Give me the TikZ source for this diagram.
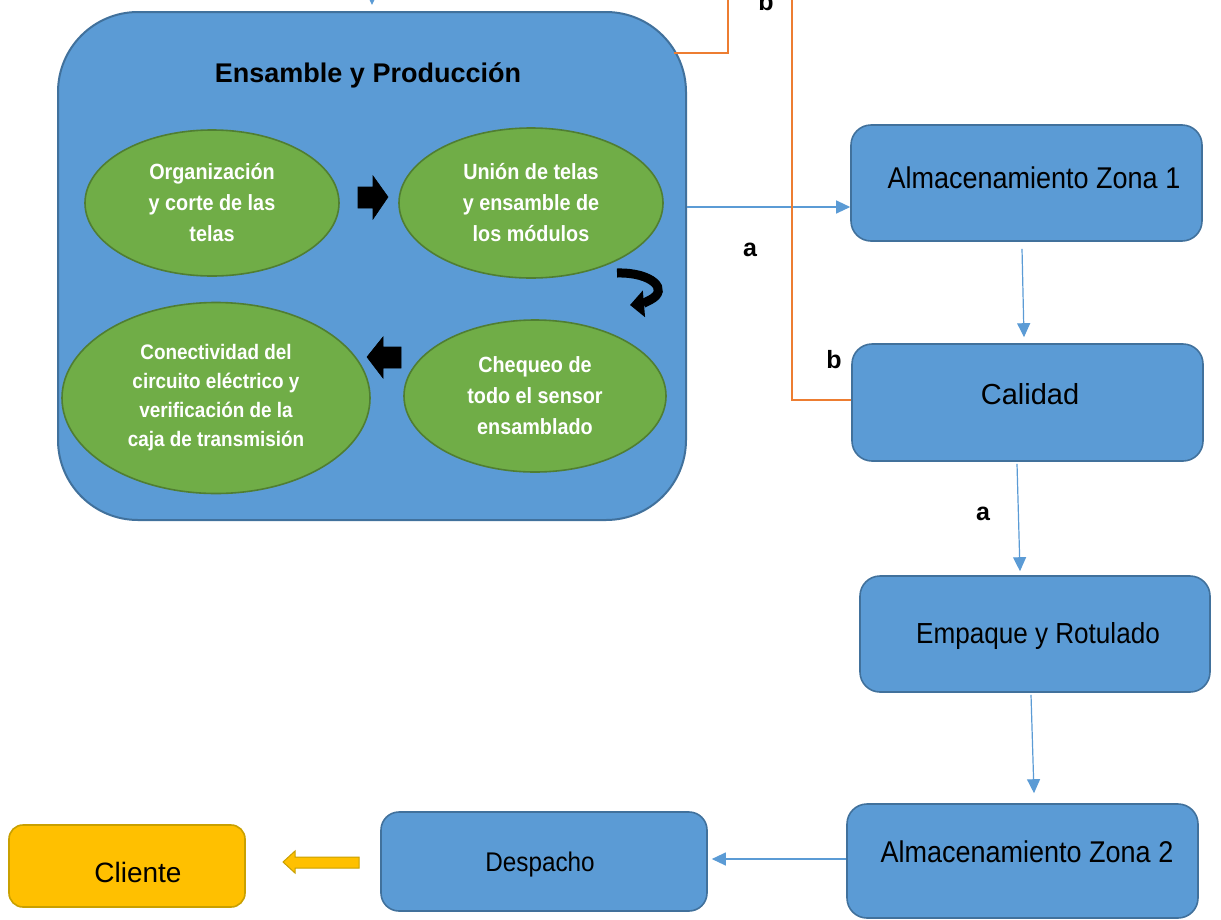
\documentclass[tikz,border=0pt]{standalone}
\usepackage{fontspec}
\setmainfont{Liberation Sans}
\newfontfamily\narrowsf{Liberation Sans}[FakeStretch=0.9]
\usetikzlibrary{shapes.geometric,arrows.meta,calc}

\definecolor{boxblue}{HTML}{5B9BD5}
\definecolor{boxedge}{HTML}{41719C}
\definecolor{leaf}{HTML}{70AD47}
\definecolor{leafedge}{HTML}{507E32}
\definecolor{wire}{HTML}{ED7D31}
\definecolor{gold}{HTML}{FFC000}
\definecolor{goldedge}{HTML}{C9A000}

\tikzset{
  stage/.style={draw=boxedge, fill=boxblue, line width=1.6pt, rounded corners=20pt,
    inner sep=0pt, minimum width=#1},
  stagetext/.style={anchor=base, inner sep=0pt, font=\narrowsf\fontsize{30}{34}\selectfont},
  task/.style={ellipse, draw=leafedge, fill=leaf, line width=1.6pt, inner sep=0pt,
    text=white, align=center},
  tasktext/.style={font=\narrowsf\bfseries\fontsize{22}{31}\selectfont},
  flow/.style={draw=boxblue, line width=1.2pt, -{Triangle[length=14pt,width=13pt]}},
  feedback/.style={draw=wire, line width=1.3pt},
  tag/.style={anchor=base, inner sep=0pt, font=\bfseries\fontsize{25}{28}\selectfont},
  bigarrow/.style={fill=black, draw=black, line width=0.6pt},
}

\begin{document}
\begin{tikzpicture}[x=1pt,y=-1pt]
\useasboundingbox (0,0) rectangle (1221,919);
\clip (0,0) rectangle (1221,919);

% production block with its four tasks
\node[draw=boxedge, fill=boxblue, line width=2pt, rounded corners=80pt,
      minimum width=628pt, minimum height=508pt] (ens) at (372,266) {};
\node[anchor=base, inner sep=0pt, font=\bfseries\fontsize{27}{30}\selectfont]
      (title) at (368,82) {Ensamble y Producción};

\node[task, tasktext, minimum width=254pt, minimum height=146pt] (t1) at (212,203)
  {Organización\\y corte de las\\telas};
\node[task, tasktext, minimum width=264pt, minimum height=150pt] (t2) at (531,203)
  {Unión de telas\\y ensamble de\\los módulos};
\node[task, tasktext, minimum width=262pt, minimum height=152pt] (t3) at (535,396)
  {Chequeo de\\todo el sensor\\ensamblado};
\node[task, font=\narrowsf\bfseries\fontsize{21}{29}\selectfont,
      minimum width=308pt, minimum height=191pt] (t4) at (216,398)
  {Conectividad del\\circuito eléctrico y\\verificación de la\\caja de transmisión};

% black block arrows between the tasks
\path[bigarrow] (358,187) -- (373,187) -- (373,176) -- (388,197) -- (373,219)
  -- (373,208) -- (358,208) -- cycle;
\path[bigarrow] (401,347) -- (383,347) -- (383,337) -- (367,357) -- (383,378)
  -- (383,368) -- (401,368) -- cycle;
\draw[line width=9pt, -{Triangle[length=14pt,width=26pt]}]
  (617,273) .. controls (652,272) and (670,290) .. (650,300) .. controls (642,304) .. (630,305);

% process boxes
\node[stage=351pt, minimum height=116pt] (alm1) at (1026.5,183) {};
\node[stagetext] (alm1t) at (1034,188) {Almacenamiento Zona 1};
\node[stage=351pt, minimum height=117pt] (cal) at (1027.5,402.5) {};
\node[anchor=base, inner sep=0pt, font=\fontsize{29}{33}\selectfont] (calt) at (1030,404) {Calidad};
\node[stage=350pt, minimum height=116pt] (emp) at (1035,634) {};
\node[stagetext, font=\narrowsf\fontsize{29}{33}\selectfont] (empt) at (1038,643) {Empaque y Rotulado};
\node[stage=351pt, minimum height=114pt] (alm2) at (1022.5,861) {};
\node[stagetext] (alm2t) at (1027,862) {Almacenamiento Zona 2};
\node[stage=326pt, minimum height=99pt, rounded corners=18pt] (desp) at (544,861.5) {};
\node[stagetext, font=\narrowsf\fontsize{27}{31}\selectfont] (despt) at (540,871) {Despacho};
\node[draw=goldedge, fill=gold, line width=1.6pt, rounded corners=14pt,
      minimum width=236pt, minimum height=82pt] (cli) at (127,866) {};
\node[anchor=base, inner sep=0pt, font=\fontsize{28}{32}\selectfont] (clit) at (138,882) {Cliente};

% main flow
\coordinate (src) at (372,-40);
\draw[flow] (src) -- ($(ens.north)+(0,-6)$);
\draw[flow] (ens.east |- 0,207) -- (alm1.west |- 0,207);
\draw[flow] ($(alm1.south)+(-4.5,7)$) -- ($(cal.north)+(-3.5,-6)$);
\draw[flow] ($(cal.south)+(-10.5,2)$) -- ($(emp.north)+(-15,-4)$);
\draw[flow] ($(emp.south)+(-4,2)$) -- ($(alm2.north)+(11.5,-10)$);
\draw[flow] (alm2.west |- 0,859) -- ($(desp.east |- 0,859)+(4,0)$);

% delivery to the customer
\path[fill=gold, draw=goldedge, line width=1pt]
  (359,857) -- (295,857) -- (295,851) -- (283,862) -- (295,873) -- (295,868)
  -- (359,868) -- cycle;

% rework lines
\coordinate (upA) at (728,-10);
\coordinate (upB) at (792,-10);
\draw[feedback] (674,53) -- (728,53) -- (upA);
\draw[feedback] (upB) -- (792,400) -- (cal.west |- 0,400);

% path labels
\node[tag] (la1) at (750,256) {a};
\node[tag] (la2) at (983,520) {a};
\node[tag] (lb1) at (834,368) {b};
\node[tag] (lb0) at (766,10) {b};
\end{tikzpicture}
\end{document}
